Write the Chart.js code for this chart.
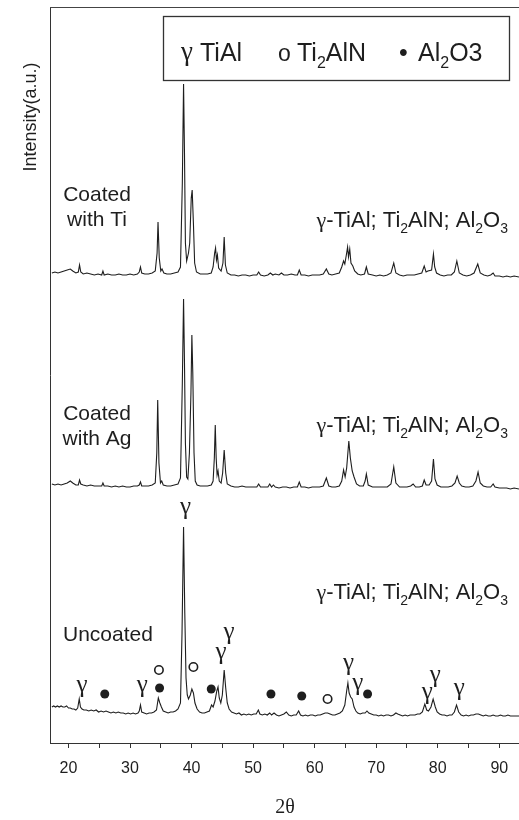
<!DOCTYPE html>
<html>
<head>
<meta charset="utf-8">
<script src="https://cdn.jsdelivr.net/npm/chart.js@4.4.1/dist/chart.umd.min.js"></script>
<style>
  html, body { margin: 0; padding: 0; background: #fff; }
  #wrap { width: 519px; height: 820px; position: relative; }
</style>
</head>
<body>
<div id="wrap"><canvas id="xrd"></canvas></div>
<script>
// XRD patterns, 2theta vs intensity (a.u., patterns already stacked)

// Coated with Ti
const tiPattern = [
  [17.3,470],[17.8,471],[18.3,470],[18.8,471],[19.3,472],[19.8,473],[20.3,474],[20.7,472],[21.2,470],[21.6,471],
  [21.8,478],[22.0,471],[22.4,469],[23.0,470],[23.6,469],[24.2,468],[24.8,469],[25.4,468],[25.6,472],[25.8,468],
  [26.4,469],[27.0,468],[27.6,468],[28.2,469],[28.8,468],[29.4,468],[30.0,469],[30.6,468],[31.2,469],[31.5,471],
  [31.7,476],[31.9,470],[32.4,469],[33.0,469],[33.6,470],[34.1,472],[34.4,490],[34.55,521],[34.75,485],[35.0,472],
  [35.2,474],[35.5,470],[36.0,469],[36.6,469],[37.2,470],[37.8,471],[38.2,476],[38.5,560],[38.7,659],[38.85,590],
  [39.0,500],[39.2,482],[39.5,490],[39.7,500],[39.95,545],[40.1,553],[40.3,520],[40.5,480],[40.8,471],[41.4,469],
  [42.0,469],[42.6,469],[43.2,470],[43.5,476],[43.75,490],[43.9,495],[44.05,483],[44.2,488],[44.4,475],[44.8,472],
  [45.1,480],[45.3,506],[45.5,478],[45.8,470],[46.4,468],[47.0,468],[47.6,467],[48.2,468],[48.8,468],[49.4,467],
  [50.0,468],[50.6,468],[50.9,471],[51.2,468],[51.8,467],[52.4,468],[52.8,470],[53.2,468],[53.6,469],[54.2,468],
  [54.6,470],[55.0,468],[55.6,468],[56.2,469],[56.8,468],[57.2,468],[57.5,473],[57.8,468],[58.4,468],[59.0,467],
  [59.6,468],[60.2,468],[60.8,468],[61.4,469],[61.9,474],[62.3,469],[62.8,468],[63.4,469],[64.0,470],[64.4,476],
  [64.7,482],[64.9,479],[65.2,490],[65.35,496],[65.5,486],[65.7,494],[65.9,480],[66.2,477],[66.5,472],[67.0,469],
  [67.5,468],[68.1,469],[68.4,476],[68.7,469],[69.4,468],[70.0,467],[70.6,468],[71.2,467],[71.8,468],[72.4,470],
  [72.85,480],[73.2,470],[73.8,468],[74.4,467],[75.0,468],[75.6,468],[76.2,468],[76.8,469],[77.4,470],[77.8,477],
  [78.1,471],[78.4,472],[79.0,473],[79.3,489],[79.5,476],[79.8,470],[80.4,468],[81.0,467],[81.6,468],[82.2,468],
  [82.7,471],[83.1,482],[83.5,470],[84.1,468],[84.7,467],[85.3,468],[85.9,470],[86.5,479],[86.9,470],[87.5,468],
  [88.1,467],[88.6,468],[89.0,470],[89.3,467],[90.0,467],[90.6,466],[91.2,467],[91.8,466],[92.4,467],[93.2,466]
];

// Coated with Ag
const agPattern = [
  [17.3,259],[17.8,258],[18.3,259],[18.8,258],[19.3,259],[19.8,260],[20.3,262],[20.7,260],[21.2,258],[21.6,258],
  [21.8,263],[22.0,259],[22.4,258],[23.0,257],[23.6,258],[24.2,257],[24.8,257],[25.4,257],[25.6,260],[25.8,257],
  [26.4,257],[27.0,256],[27.6,257],[28.2,256],[28.8,257],[29.4,256],[30.0,256],[30.6,257],[31.2,257],[31.5,258],
  [31.7,261],[31.9,257],[32.4,257],[33.0,257],[33.6,258],[34.1,260],[34.35,290],[34.5,343],[34.7,280],[34.95,260],
  [35.15,262],[35.4,258],[36.0,257],[36.6,257],[37.2,258],[37.8,259],[38.2,265],[38.5,360],[38.7,444],[38.85,380],
  [39.0,300],[39.2,266],[39.4,264],[39.65,290],[39.9,350],[40.05,408],[40.2,370],[40.4,290],[40.6,262],[40.9,258],
  [41.4,257],[42.0,257],[42.6,257],[43.2,258],[43.5,262],[43.7,285],[43.85,318],[44.0,285],[44.15,268],[44.3,272],
  [44.5,262],[44.8,260],[45.05,270],[45.3,293],[45.55,270],[45.8,259],[46.4,257],[47.0,256],[47.6,256],[48.2,257],
  [48.8,256],[49.4,256],[50.0,256],[50.6,256],[50.9,259],[51.2,256],[51.8,256],[52.4,256],[52.7,259],[53.0,256],
  [53.3,258],[53.6,256],[54.2,255],[54.8,256],[55.4,256],[56.0,255],[56.6,256],[57.2,256],[57.5,261],[57.8,256],
  [58.4,256],[59.0,255],[59.6,256],[60.2,256],[60.8,256],[61.4,257],[61.9,265],[62.3,257],[62.8,256],[63.4,256],
  [64.0,257],[64.4,262],[64.7,273],[64.95,266],[65.2,275],[65.55,302],[65.8,285],[66.1,272],[66.4,266],[66.8,259],
  [67.3,257],[67.9,257],[68.2,262],[68.4,269],[68.7,258],[69.4,256],[70.0,256],[70.6,256],[71.2,256],[71.8,256],
  [72.4,259],[72.85,276],[73.2,260],[73.8,256],[74.4,256],[75.0,256],[75.6,257],[76.0,259],[76.4,256],[77.0,256],
  [77.5,257],[77.8,263],[78.1,258],[78.6,258],[79.0,262],[79.3,284],[79.55,264],[79.9,258],[80.5,256],[81.1,256],
  [81.7,256],[82.3,257],[82.8,260],[83.15,267],[83.5,260],[83.9,257],[84.5,256],[85.1,256],[85.7,257],[86.2,262],
  [86.55,271],[86.9,260],[87.4,257],[88.0,256],[88.6,256],[89.0,259],[89.3,256],[90.0,255],[90.6,255],[91.2,255],
  [91.8,254],[92.4,255],[93.2,254]
];

// Uncoated
const unPattern = [
  [17.3,36],[17.6,37],[17.9,36],[18.2,37],[18.5,36],[18.8,37],[19.1,36],[19.4,36],[19.7,37],[20.0,35],
  [20.3,35],[20.6,34],[20.9,34],[21.2,33],[21.5,35],[21.75,44],[21.95,36],[22.2,34],[22.5,33],[22.9,33],
  [23.3,32],[23.7,33],[24.1,32],[24.5,33],[24.9,31],[25.3,32],[25.7,31],[26.1,32],[26.5,31],[26.9,30],
  [27.3,31],[27.7,30],[28.1,31],[28.5,30],[28.9,30],[29.3,29],[29.7,30],[30.1,29],[30.5,30],[30.9,29],
  [31.3,30],[31.5,32],[31.7,38],[31.9,31],[32.3,30],[32.7,29],[33.1,30],[33.5,30],[33.9,31],[34.3,33],
  [34.6,45],[34.85,40],[35.1,36],[35.4,32],[35.8,31],[36.2,30],[36.6,31],[37.0,31],[37.4,32],[37.8,34],
  [38.2,40],[38.45,110],[38.7,216],[38.9,130],[39.1,65],[39.3,48],[39.5,44],[39.8,48],[40.05,54],[40.3,50],
  [40.55,40],[40.9,34],[41.3,31],[41.7,30],[42.1,30],[42.5,31],[42.9,32],[43.25,38],[43.5,36],[43.8,42],
  [44.1,52],[44.3,56],[44.5,45],[44.75,40],[45.0,48],[45.3,73],[45.55,55],[45.8,40],[46.1,34],[46.5,31],
  [46.9,30],[47.3,29],[47.7,30],[48.1,28],[48.5,29],[48.9,28],[49.3,29],[49.7,28],[50.1,29],[50.5,29],
  [50.85,33],[51.1,29],[51.5,28],[51.9,29],[52.3,28],[52.7,30],[53.0,28],[53.4,30],[53.8,28],[54.2,27],
  [54.6,28],[55.0,29],[55.4,31],[55.8,28],[56.2,27],[56.6,28],[57.0,28],[57.4,32],[57.7,28],[58.1,27],
  [58.5,28],[58.9,27],[59.3,28],[59.7,28],[60.1,27],[60.5,28],[60.9,28],[61.3,29],[61.7,30],[62.1,30],
  [62.5,29],[62.9,28],[63.3,28],[63.7,29],[64.1,30],[64.5,32],[64.9,38],[65.2,52],[65.4,60],[65.6,50],
  [65.85,46],[66.1,44],[66.4,36],[66.7,32],[67.0,30],[67.4,29],[67.8,30],[68.2,30],[68.5,32],[68.8,30],
  [69.2,29],[69.6,28],[70.0,28],[70.4,27],[70.8,28],[71.2,27],[71.6,28],[72.0,28],[72.4,27],[72.8,28],
  [73.2,30],[73.5,29],[73.9,28],[74.3,27],[74.7,28],[75.1,27],[75.5,28],[75.9,28],[76.3,28],[76.7,29],
  [77.1,29],[77.5,31],[77.9,39],[78.2,33],[78.5,32],[78.9,36],[79.25,44],[79.6,36],[79.9,31],[80.3,29],
  [80.7,28],[81.1,28],[81.5,27],[81.9,28],[82.3,28],[82.7,31],[83.05,38],[83.4,31],[83.8,28],[84.2,27],
  [84.6,28],[85.0,27],[85.4,28],[85.8,28],[86.2,29],[86.6,29],[87.0,28],[87.4,27],[87.8,28],[88.2,27],
  [88.6,27],[89.0,28],[89.4,27],[89.8,27],[90.2,28],[90.6,27],[91.0,27],[91.4,28],[91.8,27],[92.2,27],
  [92.6,27],[93.2,27]
];

// phase markers on the uncoated pattern [2theta, intensity]
const gammaMarks = [[22.2,58],[32.0,58],[39.0,236],[44.8,91],[46.1,111],[65.5,80],[67.0,60],[78.3,51],[79.6,68],[83.5,55]];
const ti2alnMarks = [[34.7,73],[40.3,76],[62.1,44]];
const al2o3Marks = [[25.9,49],[34.8,55],[43.2,54],[52.9,49],[57.9,47],[68.6,49]];

const sampleNames = [['Coated', 'with Ti'], ['Coated', 'with Ag'], ['Uncoated']];
const xTicks = [20, 30, 40, 50, 60, 70, 80, 90];

const INK = '#1e1e1e';
const SANS = '"Liberation Sans", Arial, sans-serif';
const SERIF = '"Liberation Serif", "Times New Roman", serif';

function runFont(kind, size) {
  if (kind === 'g') return size + 'px ' + SERIF;
  if (kind === 's') return Math.round(size * 0.62) + 'px ' + SANS;
  return size + 'px ' + SANS;
}

// text with subscripts; y is the baseline
function drawRuns(ctx, runs, x, y, size, align) {
  let w = 0;
  runs.forEach(([t, k]) => { ctx.font = runFont(k, size); w += ctx.measureText(t).width; });
  let cx = align === 'right' ? x - w : align === 'center' ? x - w / 2 : x;
  ctx.textAlign = 'left';
  ctx.textBaseline = 'alphabetic';
  runs.forEach(([t, k]) => {
    ctx.font = runFont(k, size);
    ctx.fillText(t, cx, k === 's' ? y + size * 0.28 : y);
    cx += ctx.measureText(t).width;
  });
  return w;
}

const phaseRuns = [['γ', 'g'], ['-TiAl; Ti', ''], ['2', 's'], ['AlN; Al', ''], ['2', 's'], ['O', ''], ['3', 's']];

const overlay = {
  id: 'overlay',
  afterDatasetsDraw(chart) {
    const { ctx, scales: { x, y } } = chart;
    ctx.save();
    ctx.fillStyle = INK;
    ctx.font = '25px ' + SERIF;
    ctx.textAlign = 'center';
    ctx.textBaseline = 'middle';
    gammaMarks.forEach(([t, v]) => ctx.fillText('γ', x.getPixelForValue(t), y.getPixelForValue(v)));
    ctx.restore();
  },
  afterDraw(chart) {
    const { ctx, chartArea: a } = chart;
    ctx.save();
    ctx.strokeStyle = '#444';
    ctx.lineWidth = 1;
    ctx.beginPath();
    ctx.moveTo(a.left, a.top + 0.5);
    ctx.lineTo(a.right, a.top + 0.5);
    ctx.stroke();

    // legend box
    ctx.fillStyle = '#fff';
    ctx.fillRect(163.5, 16.5, 346, 64);
    ctx.strokeStyle = '#333';
    ctx.lineWidth = 1.3;
    ctx.strokeRect(163.5, 16.5, 346, 64);
    ctx.fillStyle = INK;
    drawRuns(ctx, [['γ', 'g']], 181, 60, 27, 'left');
    drawRuns(ctx, [['TiAl', '']], 200, 61, 25, 'left');
    drawRuns(ctx, [['o', '']], 278, 61, 23, 'left');
    drawRuns(ctx, [['Ti', ''], ['2', 's'], ['AlN', '']], 297, 61, 25, 'left');
    drawRuns(ctx, [['•', '']], 399, 61, 25, 'left');
    drawRuns(ctx, [['Al', ''], ['2', 's'], ['O3', '']], 418, 61, 25, 'left');

    // sample names
    ctx.font = '21px ' + SANS;
    ctx.textAlign = 'center';
    ctx.textBaseline = 'alphabetic';
    ctx.fillText(sampleNames[0][0], 97, 201);
    ctx.fillText(sampleNames[0][1], 97, 226);
    ctx.fillText(sampleNames[1][0], 97, 420);
    ctx.fillText(sampleNames[1][1], 97, 445);
    ctx.textAlign = 'left';
    ctx.fillText(sampleNames[2][0], 63, 641);

    // phase labels
    [227, 432, 599].forEach(b => drawRuns(ctx, phaseRuns, 508, b, 22, 'right'));

    // axis titles
    ctx.font = '18px ' + SANS;
    ctx.textAlign = 'center';
    ctx.textBaseline = 'middle';
    ctx.translate(31, 117);
    ctx.rotate(-Math.PI / 2);
    ctx.fillText('Intensity(a.u.)', 0, 0);
    ctx.restore();
    ctx.save();
    ctx.fillStyle = INK;
    ctx.font = '20px ' + SERIF;
    ctx.textAlign = 'center';
    ctx.textBaseline = 'middle';
    ctx.fillText('2θ', 285, 808);
    ctx.restore();
  }
};

const toXY = p => p.map(([t, v]) => ({ x: t, y: v }));
const traceStyle = { borderColor: INK, borderWidth: 1.1, pointRadius: 0, tension: 0, fill: false };

new Chart(document.getElementById('xrd'), {
  type: 'line',
  data: {
    datasets: [
      Object.assign({ label: 'Coated with Ti', data: toXY(tiPattern) }, traceStyle),
      Object.assign({ label: 'Coated with Ag', data: toXY(agPattern) }, traceStyle),
      Object.assign({ label: 'Uncoated', data: toXY(unPattern) }, traceStyle),
      { label: 'Ti2AlN', data: toXY(ti2alnMarks), showLine: false, pointStyle: 'circle', pointRadius: 4.2,
        pointBackgroundColor: '#fff', pointBorderColor: INK, pointBorderWidth: 1.6 },
      { label: 'Al2O3', data: toXY(al2o3Marks), showLine: false, pointStyle: 'circle', pointRadius: 4.5,
        pointBackgroundColor: INK, pointBorderColor: INK, pointBorderWidth: 0 }
    ]
  },
  options: {
    responsive: true,
    maintainAspectRatio: false,
    animation: false,
    layout: { autoPadding: false, padding: { top: 7, right: 0, bottom: 0, left: 0 } },
    plugins: { legend: { display: false }, tooltip: { enabled: false } },
    scales: {
      x: {
        type: 'linear',
        min: 17,
        max: 93.2,
        afterFit: s => { s.height = 77; s.paddingLeft = 0; s.paddingRight = 0; },
        grid: { drawOnChartArea: false, drawTicks: true, tickLength: 5, color: '#333' },
        border: { color: '#333', width: 1 },
        ticks: {
          stepSize: 5,
          includeBounds: false,
          autoSkip: false,
          maxRotation: 0,
          padding: 11,
          color: INK,
          font: { family: SANS, size: 16 },
          callback: v => xTicks.includes(v) ? String(v) : ''
        }
      },
      y: {
        min: 0,
        max: 736,
        afterFit: s => { s.width = 50; },
        grid: { display: false },
        border: { display: true, color: '#333', width: 1 },
        ticks: { display: false }
      }
    }
  },
  plugins: [overlay]
});
</script>
</body>
</html>
